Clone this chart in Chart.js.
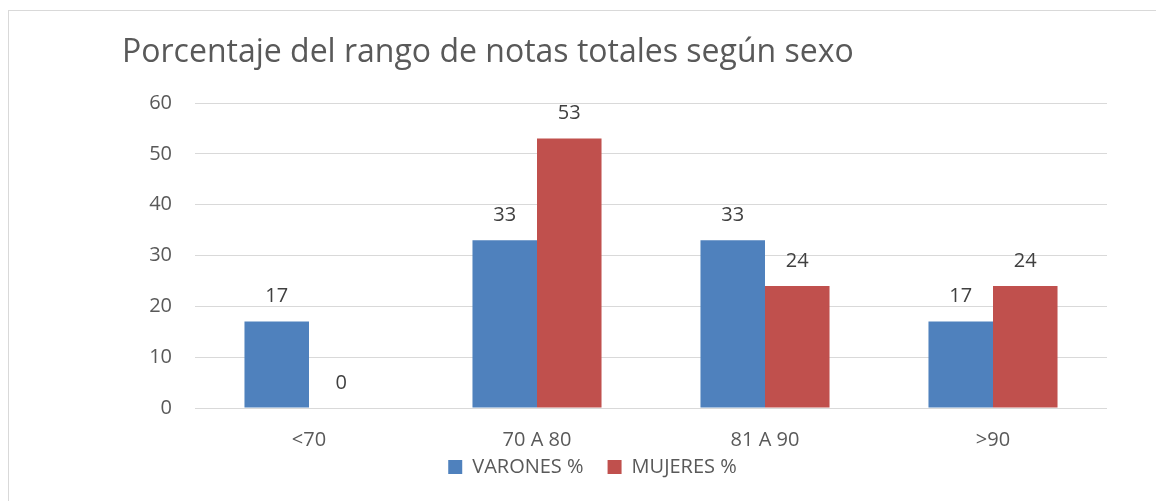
<!DOCTYPE html>
<html>
<head>
<meta charset="utf-8">
<script src="https://cdn.jsdelivr.net/npm/chart.js@4"></script>
<style>
html,body{margin:0;padding:0;background:#fff;width:1156px;height:501px;overflow:hidden;}
#frame{position:absolute;left:8px;top:10px;width:1200px;height:520px;border:1px solid #d9d9d9;box-sizing:border-box;pointer-events:none;}
#wrap{position:absolute;left:0;top:0;width:1156px;height:501px;}
</style>
</head>
<body>
<div id="wrap"><canvas id="c" width="1156" height="501"></canvas></div>
<div id="frame"></div>
<script>
const categories = ['<70', '70 A 80', '81 A 90', '>90'];
const varones = [17, 33, 33, 17];
const mujeres = [0, 53, 24, 24];
const seriesNames = ['VARONES %', 'MUJERES %'];
const yTicks = [0, 10, 20, 30, 40, 50, 60];
const titleText = 'Porcentaje del rango de notas totales según sexo';

const FONT = "'Open Sans', 'Liberation Sans', sans-serif";

const valueLabels = {
  id: 'valueLabels',
  afterDatasetsDraw(chart) {
    const ctx = chart.ctx;
    ctx.save();
    ctx.font = '20px ' + FONT;
    ctx.fillStyle = '#404040';
    ctx.textAlign = 'center';
    ctx.textBaseline = 'middle';
    chart.data.datasets.forEach((ds, i) => {
      const meta = chart.getDatasetMeta(i);
      meta.data.forEach((bar, j) => {
        ctx.fillText(String(ds.data[j]), bar.x, bar.y - 25);
      });
    });
    ctx.restore();
  }
};

const legendShift = {
  id: 'legendShift',
  afterLayout(chart) {
    const lg = chart.legend;
    if (lg) { lg.left -= 22; lg.right -= 22; }
  }
};

new Chart(document.getElementById('c'), {
  type: 'bar',
  data: {
    labels: categories,
    datasets: [
      { label: seriesNames[0], data: varones, backgroundColor: '#4F81BD' },
      { label: seriesNames[1], data: mujeres, backgroundColor: '#C0504D' }
    ]
  },
  options: {
    responsive: false,
    animation: false,
    devicePixelRatio: 1,
    categoryPercentage: 0.566,
    barPercentage: 1,
    layout: { padding: { left: 122, right: 49, top: 18, bottom: 14 } },
    plugins: {
      title: {
        display: true,
        text: titleText,
        align: 'start',
        color: '#595959',
        font: { family: FONT, size: 32, weight: 'normal' },
        padding: { top: 16, bottom: 30.6 }
      },
      legend: {
        position: 'bottom',
        labels: {
          color: '#595959',
          font: { family: FONT, size: 20 },
          boxWidth: 14,
          boxHeight: 14,
          padding: 24
        }
      },
      tooltip: { enabled: false }
    },
    scales: {
      x: {
        grid: { display: false, drawTicks: false },
        border: { display: false },
        ticks: { color: '#595959', font: { family: FONT, size: 20 }, padding: 20 },
        afterFit(s) {
          s.height = 25;
          s._computeLabelArea = function () { return undefined; };
        }
      },
      y: {
        min: 0, max: 60,
        afterBuildTicks(s) { s.ticks = yTicks.map(v => ({ value: v })); },
        grid: { color: '#d9d9d9', lineWidth: 1, drawTicks: false },
        border: { display: false },
        ticks: { color: '#595959', font: { family: FONT, size: 20 }, padding: 23 },
        afterFit(s) { s.width = 73; }
      }
    }
  },
  plugins: [valueLabels, legendShift]
});
</script>
</body>
</html>
